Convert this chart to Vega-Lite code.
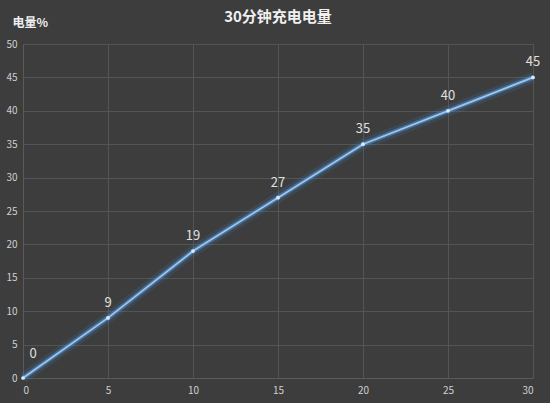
{
  "$schema": "https://vega.github.io/schema/vega-lite/v6.json",
  "width": 510,
  "height": 334,
  "autosize": {"type": "none"},
  "padding": {"left": 23, "top": 44, "right": 17, "bottom": 25},
  "background": "#3d3d3d",
  "title": {
    "text": "30分钟充电电量",
    "font": "Noto Sans CJK SC",
    "fontSize": 15,
    "fontWeight": "bold",
    "color": "#f0f0f0",
    "anchor": "middle",
    "offset": -9
  },
  "config": {
    "view": {"stroke": null},
    "font": "Noto Sans CJK SC"
  },
  "data": {
    "values": [
      {"min": 0, "pct": 0},
      {"min": 5, "pct": 9},
      {"min": 10, "pct": 19},
      {"min": 15, "pct": 27},
      {"min": 20, "pct": 35},
      {"min": 25, "pct": 40},
      {"min": 30, "pct": 45}
    ]
  },
  "encoding": {
    "x": {
      "field": "min", "type": "quantitative",
      "scale": {"domain": [0, 30], "nice": false},
      "axis": {
        "values": [0, 5, 10, 15, 20, 25, 30],
        "title": null,
        "grid": true, "gridColor": "#545454", "gridWidth": 1,
        "domainColor": "#5a5a5a", "ticks": false,
        "labelColor": "#d0d0d0", "labelFontSize": 10, "labelPadding": 7,
        "labelFont": "Noto Sans CJK SC"
      }
    },
    "y": {
      "field": "pct", "type": "quantitative",
      "scale": {"domain": [0, 50], "nice": false},
      "axis": {
        "values": [0, 5, 10, 15, 20, 25, 30, 35, 40, 45, 50],
        "title": "电量%",
        "titleAngle": 0, "titleAlign": "left", "titleBaseline": "middle",
        "titleX": -11, "titleY": -22,
        "titleColor": "#f0f0f0", "titleFontSize": 12, "titleFontWeight": "bold",
        "grid": true, "gridColor": "#545454", "gridWidth": 1,
        "domainColor": "#5a5a5a", "ticks": false,
        "labelColor": "#d0d0d0", "labelFontSize": 10, "labelPadding": 6,
        "labelFont": "Noto Sans CJK SC"
      }
    }
  },
  "layer": [
    {"mark": {"type": "line", "color": "#3f8de0", "strokeWidth": 11, "opacity": 0.15}},
    {"mark": {"type": "line", "color": "#5aa2ec", "strokeWidth": 5, "opacity": 0.4}},
    {"mark": {"type": "line", "color": "#9cc6f2", "strokeWidth": 1.8}},
    {"mark": {"type": "point", "filled": true, "color": "#d8eaff", "size": 14, "opacity": 1}},
    {
      "transform": [{"filter": "datum.min > 0"}],
      "mark": {"type": "text", "dy": -15, "fontSize": 13, "color": "#e0e0e0"},
      "encoding": {"text": {"field": "pct", "type": "quantitative"}}
    },
    {
      "transform": [{"filter": "datum.min == 0"}],
      "mark": {"type": "text", "dx": 10, "dy": -24, "fontSize": 13, "color": "#e0e0e0"},
      "encoding": {"text": {"field": "pct", "type": "quantitative"}}
    }
  ]
}
